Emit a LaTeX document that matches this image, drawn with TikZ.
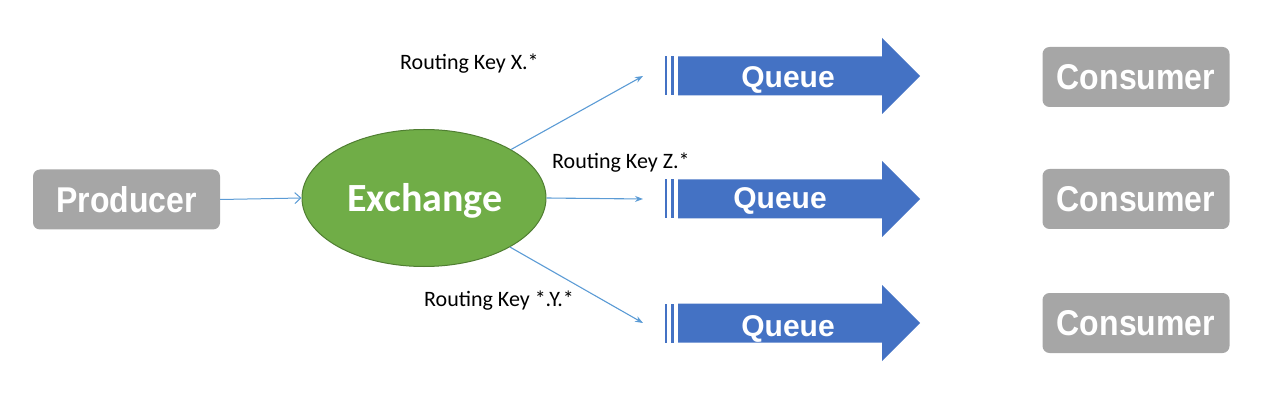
\documentclass[tikz,border=0pt]{standalone}
\usepackage{fontspec}
\setmainfont{Liberation Sans}
\newfontfamily\calfont{Carlito}
\usetikzlibrary{arrows.meta,shapes.geometric}
\definecolor{boxgray}{HTML}{A6A6A6}
\definecolor{qblue}{HTML}{4472C4}
\definecolor{exgreen}{HTML}{70AD47}
\definecolor{exedge}{HTML}{507E32}
\definecolor{lineblue}{HTML}{5B9BD5}
\tikzset{
  graybox/.style={fill=boxgray, rounded corners=7pt, minimum width=187pt, minimum height=60pt, inner sep=0pt, text=white, font=\fontsize{32}{32}\selectfont\bfseries},
  conn/.style={draw=lineblue, line width=1.1pt, -{Stealth[length=8pt,width=6pt]}},
  keylabel/.style={font=\calfont\fontsize{22}{22}\selectfont, inner sep=0pt, anchor=west},
  qtext/.style={text=white, font=\fontsize{30}{30}\selectfont\bfseries, inner sep=0pt}
}
\newcommand{\queuearrow}[2]{% #1 = centre y, #2 = name
  \fill[qblue] (678,#1-19.5) -- (882,#1-19.5) -- (882,#1-38) -- (920,#1) -- (882,#1+38) -- (882,#1+19.5) -- (678,#1+19.5) -- cycle;
  \fill[qblue] (670.5,#1-19.5) rectangle (674,#1+19.5);
  \fill[qblue] (665,#1-19.5) rectangle (666.6,#1+19.5);
  \coordinate (#2) at (643,#1);
}
\begin{document}
\begin{tikzpicture}[x=1pt,y=-1pt]
\useasboundingbox (0,0) rectangle (1265,403);
% producer
\node[graybox] (prod) at (126.5,199.5) {\scalebox{1}[1.12]{Producer}};
% exchange
\node[ellipse, draw=exedge, line width=1pt, fill=exgreen, minimum width=244pt, minimum height=137pt, inner sep=0pt] (ex) at (424,198) {};
\node[text=white, font=\calfont\fontsize{40}{40}\selectfont\bfseries, inner sep=0pt] (extext) at (425,201) {Exchange};
% queues
\queuearrow{76}{q1in}
\queuearrow{199}{q2in}
\queuearrow{323}{q3in}
\node[qtext] (q1) at (788,80) {Queue};
\node[qtext] (q2) at (780,201) {Queue};
\node[qtext] (q3) at (788,329) {Queue};
% consumers
\node[graybox] (c1) at (1136,77) {\scalebox{1}[1.12]{Consumer}};
\node[graybox] (c2) at (1136,199) {\scalebox{1}[1.12]{Consumer}};
\node[graybox] (c3) at (1136,323) {\scalebox{1}[1.12]{Consumer}};
% connectors
\draw[draw=lineblue, line width=1pt, -{Straight Barb[length=6pt,width=11pt]}] (prod.east) -- (ex.west);
\draw[conn] (ex) -- (q1in);
\draw[conn] (ex.east) -- (q2in);
\draw[conn] (ex) -- (q3in);
% labels
\node[keylabel] (k1) at (400,64) {Routing Key X.*};
\node[keylabel] (k2) at (552,163) {Routing Key Z.*};
\node[keylabel] (k3) at (424,301) {Routing Key *.Y.*};
\end{tikzpicture}
\end{document}
